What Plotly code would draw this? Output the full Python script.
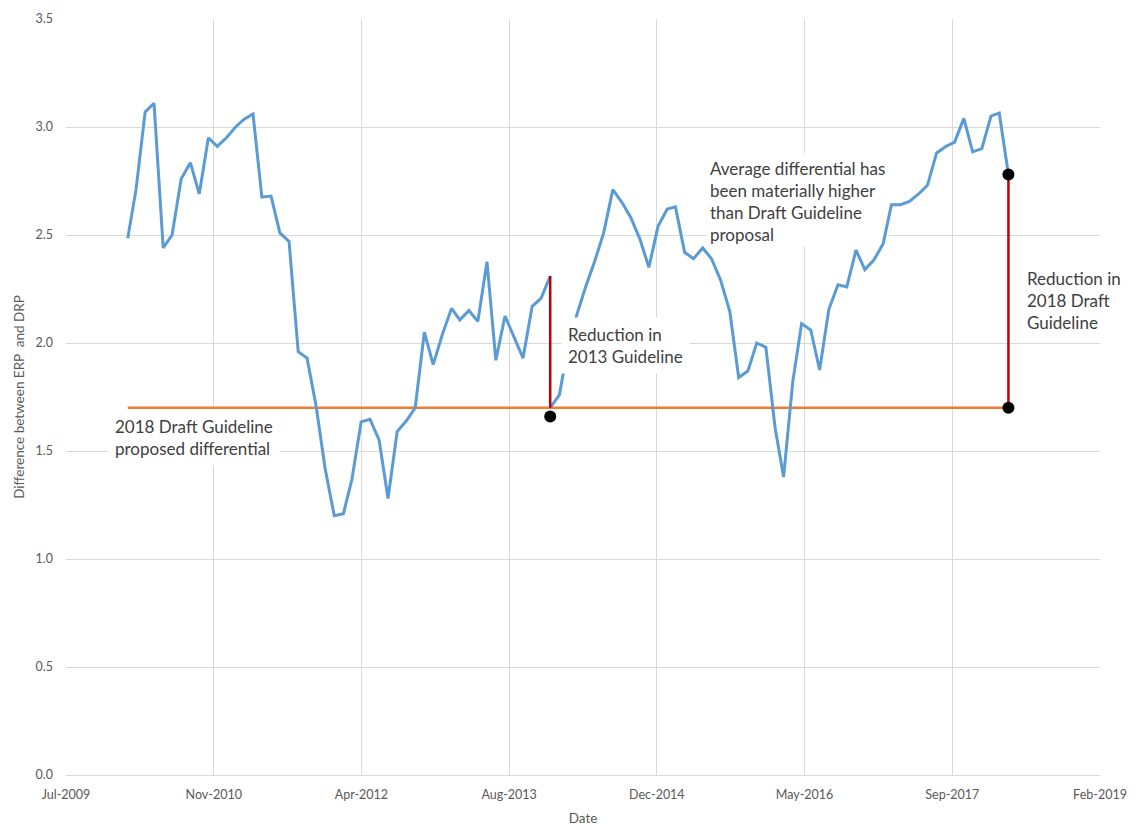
import pandas as pd
import plotly.graph_objects as go

# monthly observations, Jan 2010 - Mar 2018
dates = pd.date_range("2010-01-31", periods=99, freq="ME")

# difference between ERP and DRP before the 2013 Guideline (Jan 2010 - Dec 2013)
diff_pre_2013 = [2.485, 2.71, 3.07, 3.11, 2.44, 2.50, 2.76, 2.835, 2.69, 2.95,
                 2.91, 2.95, 3.00, 3.035, 3.06, 2.675, 2.68, 2.51, 2.47, 1.96,
                 1.93, 1.705, 1.42, 1.20, 1.21, 1.37, 1.635, 1.647, 1.55, 1.28,
                 1.59, 1.64, 1.70, 2.05, 1.90, 2.04, 2.16, 2.107, 2.15, 2.10,
                 2.376, 1.92, 2.125, 2.03, 1.93, 2.17, 2.207, 2.31]

# after the 2013 Guideline (Dec 2013 - Mar 2018)
diff_post_2013 = [1.70, 1.76, 1.97, 2.13, 2.26, 2.38, 2.51, 2.71, 2.65, 2.58,
                  2.48, 2.35, 2.54, 2.62, 2.63, 2.42, 2.39, 2.44, 2.39, 2.29,
                  2.145, 1.84, 1.87, 2.00, 1.98, 1.61, 1.38, 1.82, 2.09, 2.06,
                  1.875, 2.155, 2.27, 2.26, 2.43, 2.34, 2.385, 2.46, 2.64, 2.64,
                  2.655, 2.69, 2.73, 2.88, 2.91, 2.93, 3.04, 2.885, 2.90, 3.05,
                  3.065, 2.78]

draft_2018 = 1.70
marker_2013 = 1.66

tick_dates = ["2009-07-06", "2010-11-18", "2012-04-01", "2013-08-14",
              "2014-12-27", "2016-05-10", "2017-09-22", "2019-02-04"]
tick_text = ["Jul-2009", "Nov-2010", "Apr-2012", "Aug-2013",
             "Dec-2014", "May-2016", "Sep-2017", "Feb-2019"]

font_family = "Lato"
blue = "#5B9BD5"
orange = "#ED7D31"
red = "#C00000"

n_pre = len(diff_pre_2013)
d_2013 = dates[n_pre - 1]
d_end = dates[-1]

fig = go.Figure()

fig.add_trace(go.Scatter(
    x=[dates[0], d_end],
    y=[draft_2018, draft_2018],
    mode="lines",
    line=dict(color=orange, width=2.5),
))

fig.add_trace(go.Scatter(
    x=dates[:n_pre],
    y=diff_pre_2013,
    mode="lines",
    line=dict(color=blue, width=3),
))

fig.add_trace(go.Scatter(
    x=dates[n_pre - 1:],
    y=diff_post_2013,
    mode="lines",
    line=dict(color=blue, width=3),
))

# reductions
fig.add_trace(go.Scatter(
    x=[d_2013, d_2013],
    y=[draft_2018, diff_pre_2013[-1]],
    mode="lines",
    line=dict(color=red, width=2.5),
))
fig.add_trace(go.Scatter(
    x=[d_end, d_end],
    y=[draft_2018, diff_post_2013[-1]],
    mode="lines",
    line=dict(color=red, width=2.5),
))

fig.add_trace(go.Scatter(
    x=[d_2013, d_end, d_end],
    y=[marker_2013, diff_post_2013[-1], draft_2018],
    mode="markers",
    marker=dict(color="black", size=12),
))

note_font = dict(family=font_family, size=17, color="#404040")

fig.add_annotation(
    x="2009-11-25", y=1.562, xref="x", yref="y",
    text="2018 Draft Guideline<br>proposed differential",
    showarrow=False, xanchor="left", yanchor="middle", align="left",
    bgcolor="white", borderpad=6, font=note_font,
)
fig.add_annotation(
    x="2014-02-05", y=1.99, xref="x", yref="y",
    text="Reduction in<br>2013 Guideline",
    showarrow=False, xanchor="left", yanchor="middle", align="left",
    bgcolor="white", borderpad=6, font=note_font,
)

# this text box only hides the gridlines, the series stays visible over it
fig.add_shape(
    type="rect", layer="between", xref="x", yref="y",
    x0="2015-06-12", x1="2017-02-20", y0=2.45, y1=2.88,
    fillcolor="white", line=dict(width=0),
)
fig.add_annotation(
    x="2015-06-18", y=2.655, xref="x", yref="y",
    text="Average differential has<br>been materially higher<br>than Draft Guideline<br>proposal",
    showarrow=False, xanchor="left", yanchor="middle", align="left",
    font=note_font,
)

fig.add_annotation(
    x="2018-05-01", y=2.195, xref="x", yref="y",
    text="Reduction in<br>2018 Draft<br>Guideline",
    showarrow=False, xanchor="left", yanchor="middle", align="left",
    bgcolor="white", borderpad=8, font=note_font,
)

# the page adds an 8px body margin, so the margins are shifted to compensate
fig.update_layout(
    width=1144,
    height=830,
    margin=dict(l=58, r=52, t=11, b=63, autoexpand=False),
    plot_bgcolor="white",
    paper_bgcolor="white",
    showlegend=False,
    font=dict(family=font_family, size=12.5, color="#595959"),
    xaxis=dict(
        type="date",
        range=[tick_dates[0], tick_dates[-1]],
        tickvals=tick_dates,
        ticktext=tick_text,
        showgrid=True,
        gridcolor="#D9D9D9",
        gridwidth=1,
        showline=True,
        linecolor="#D9D9D9",
        zeroline=False,
        ticks="",
        automargin=False,
        ticklabelstandoff=8,
        title=dict(text="Date", font=dict(size=13.5, color="#595959"), standoff=12),
    ),
    yaxis=dict(
        range=[0, 3.5],
        tickvals=[0, 0.5, 1.0, 1.5, 2.0, 2.5, 3.0, 3.5],
        tickformat=".1f",
        showgrid=True,
        gridcolor="#D9D9D9",
        gridwidth=1,
        zeroline=False,
        showline=False,
        ticks="",
        automargin=False,
        ticklabelstandoff=12,
        title=dict(text="Difference between ERP  and DRP",
                   font=dict(size=13.5, color="#595959"), standoff=7),
    ),
)

fig.write_html("out.html")
